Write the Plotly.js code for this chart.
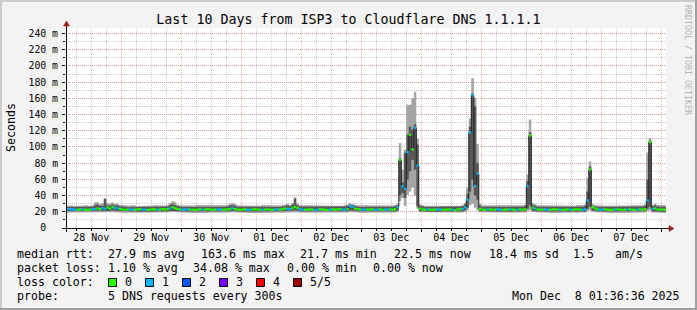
<!DOCTYPE html>
<html><head><meta charset="utf-8">
<script src="https://cdn.plot.ly/plotly-3.0.1.min.js"></script>
<style>
html,body{margin:0;padding:0;background:#f3f3f3;}
#wrap{position:relative;width:697px;height:310px;overflow:hidden;background:#f3f3f3;}
#chart{position:absolute;left:0;top:0;width:697px;height:310px;}
.sh{position:absolute;pointer-events:none;}
</style></head><body>
<div id="wrap"><div id="chart"></div>
<div class="sh" style="left:0;top:0;width:697px;height:2px;background:#cbcbcb"></div>
<div class="sh" style="left:0;top:0;width:2px;height:310px;background:#cbcbcb"></div>
<div class="sh" style="left:0;bottom:0;width:697px;height:2px;background:#a0a0a0"></div>
<div class="sh" style="right:0;top:0;width:2px;height:310px;background:#a0a0a0"></div>
</div>
<script>
// ---- time base (hourly consolidated columns) ----
const firstColumnStart = Date.UTC(2025, 10, 28, 2, 0, 0);
const columnMs = 3600000;
const rangeStart = '2025-11-28 01:52:48';
const rangeEnd = '2025-12-08 01:52:48';

// ---- median RTT per hour (ms) ----
const medianMs = [
23.2,23.4,23.0,22.8,22.5,22.9,23.1,22.6,22.4,22.8,23.0,23.5,24.0,23.2,24.5,23.8,25.2,24.0,25.8,24.6,
24.2,23.5,22.9,22.6,22.8,23.0,22.7,22.5,22.9,23.1,22.8,22.6,22.4,22.7,23.0,22.9,22.6,22.8,23.3,23.0,
23.4,24.2,25.6,24.4,23.5,22.8,22.6,22.9,23.1,22.7,22.5,22.4,22.8,23.0,22.6,22.9,23.2,22.8,22.5,22.7,
22.9,23.1,22.6,22.8,23.0,23.6,24.4,23.4,22.8,22.5,22.7,23.0,22.6,22.4,22.8,23.1,22.9,22.6,22.5,22.8,
23.0,22.7,22.5,22.9,23.1,22.8,23.2,24.0,23.6,23.2,24.4,26.0,24.6,23.2,22.8,22.6,22.9,23.0,22.7,21.9,
22.8,23.1,22.9,22.6,22.4,22.8,23.0,22.7,22.9,23.2,22.8,22.6,23.4,26.9,26.2,24.0,23.2,22.8,22.6,23.0,
22.7,22.9,23.1,22.6,22.8,23.0,22.5,22.7,23.1,22.9,22.6,23.2,25.7,84.0,51.6,48.4,93.5,115.0,97.0,123.6,
77.0,24.0,22.8,22.6,23.0,22.7,22.4,22.8,23.1,22.9,22.6,22.5,22.8,23.0,22.7,21.7,22.8,23.1,23.4,25.5,
35.0,118.0,163.6,52.0,67.0,23.8,22.7,22.5,22.9,23.0,22.6,22.8,23.1,22.7,22.4,22.6,22.9,23.0,22.7,22.5,
22.8,23.0,22.6,23.2,51.6,114.0,25.0,24.0,22.9,22.6,22.8,23.0,22.7,22.5,22.9,23.1,22.8,22.6,22.4,22.7,
23.0,22.8,22.6,22.9,23.1,22.7,22.5,23.0,34.0,72.0,25.7,24.2,22.9,22.6,22.8,23.0,22.7,22.4,22.6,22.9,
23.1,22.8,22.5,22.7,22.9,23.0,22.6,22.4,22.8,23.0,22.7,23.2,34.0,106.0,23.5,24.2,23.0,22.6,22.8,22.5
];
// ---- smoke: sorted pings 1 (fastest), 2, 4, 5 (slowest) ----
const ping1Ms = [
19.0,19.2,18.9,18.8,18.7,19.0,19.1,18.8,18.6,18.9,19.0,19.2,19.4,19.1,19.3,19.5,19.6,19.3,19.8,19.5,
19.2,19.0,18.9,18.7,18.8,19.0,18.7,18.6,18.9,19.1,18.8,18.7,18.5,18.8,19.0,18.9,18.7,18.8,19.1,19.0,
19.2,19.3,19.6,19.4,19.1,18.8,18.7,18.9,19.1,18.8,18.6,18.5,18.8,19.0,18.7,18.9,19.2,18.8,18.6,18.7,
18.9,19.1,18.7,18.8,19.0,19.2,19.5,19.2,18.8,18.6,18.7,19.0,18.7,18.5,18.8,19.1,18.9,18.7,18.6,18.8,
19.0,18.7,18.6,18.9,19.1,18.8,19.2,19.4,19.3,19.1,19.5,19.8,19.5,19.1,18.8,18.7,18.9,19.0,18.7,18.6,
18.8,19.1,18.9,18.7,18.5,18.8,19.0,18.7,18.9,19.2,18.8,18.7,19.2,19.8,19.6,19.3,19.1,18.8,18.7,19.0,
18.7,18.9,19.1,18.7,18.8,19.0,18.6,18.7,19.1,18.9,18.7,19.2,19.6,33.0,37.0,27.0,41.0,45.0,50.0,40.0,
24.0,19.4,18.8,18.7,19.0,18.7,18.5,18.8,19.1,18.9,18.7,18.6,18.8,19.0,18.7,18.5,18.8,19.1,19.2,19.6,
22.0,28.0,30.0,25.0,22.0,19.4,18.7,18.6,18.9,19.0,18.7,18.8,19.1,18.7,18.5,18.6,18.9,19.0,18.7,18.6,
18.8,19.0,18.7,19.1,21.0,22.0,19.6,19.3,18.9,18.7,18.8,19.0,18.7,18.6,18.9,19.1,18.8,18.7,18.5,18.7,
19.0,18.8,18.7,18.9,19.1,18.7,18.6,19.0,21.0,22.0,19.6,19.3,18.9,18.7,18.8,19.0,18.7,18.5,18.6,18.9,
19.1,18.8,18.6,18.7,18.9,19.0,18.7,18.5,18.8,19.0,18.7,19.1,21.0,22.0,19.2,19.5,19.0,18.7,18.8,18.6
];
const ping2Ms = [
20.6,20.8,20.4,20.3,20.2,20.5,20.7,20.3,20.1,20.4,20.6,20.9,21.2,20.8,21.0,21.3,21.6,21.0,22.0,21.4,
21.0,20.7,20.4,20.2,20.3,20.5,20.2,20.1,20.4,20.6,20.3,20.2,20.0,20.3,20.5,20.4,20.2,20.3,20.7,20.5,
20.8,21.0,21.5,21.2,20.8,20.3,20.2,20.4,20.6,20.3,20.1,20.0,20.3,20.5,20.2,20.4,20.7,20.3,20.1,20.2,
20.4,20.6,20.2,20.3,20.5,20.8,21.2,20.8,20.3,20.1,20.2,20.5,20.2,20.0,20.3,20.6,20.4,20.2,20.1,20.3,
20.5,20.2,20.1,20.4,20.6,20.3,20.7,21.0,20.9,20.7,21.2,21.8,21.3,20.7,20.3,20.2,20.4,20.5,20.2,20.1,
20.3,20.6,20.4,20.2,20.0,20.3,20.5,20.2,20.4,20.7,20.3,20.2,20.8,21.8,21.5,20.9,20.6,20.3,20.2,20.5,
20.2,20.4,20.6,20.2,20.3,20.5,20.1,20.2,20.6,20.4,20.2,20.7,21.5,40.0,43.0,37.0,60.0,70.0,84.0,72.0,
27.0,21.0,20.3,20.2,20.5,20.2,20.0,20.3,20.6,20.4,20.2,20.1,20.3,20.5,20.2,20.0,20.3,20.6,20.8,21.5,
25.0,45.0,60.0,40.0,35.0,21.0,20.2,20.1,20.4,20.5,20.2,20.3,20.6,20.2,20.0,20.1,20.4,20.5,20.2,20.1,
20.3,20.5,20.2,20.7,24.0,28.0,21.5,21.0,20.4,20.2,20.3,20.5,20.2,20.1,20.4,20.6,20.3,20.2,20.0,20.2,
20.5,20.3,20.2,20.4,20.6,20.2,20.1,20.5,24.0,26.0,21.5,20.9,20.4,20.2,20.3,20.5,20.2,20.0,20.1,20.4,
20.6,20.3,20.1,20.2,20.4,20.5,20.2,20.0,20.3,20.5,20.2,20.7,24.0,26.0,20.8,21.3,20.5,20.2,20.3,20.1
];
const ping4Ms = [
25.8,26.2,26.0,25.6,26.3,25.9,25.7,26.4,26.1,25.6,26.2,28.0,29.0,27.2,27.5,36.0,28.0,27.5,29.0,27.4,
28.0,26.8,25.9,26.2,25.7,26.1,26.5,25.9,25.6,26.3,26.0,25.8,26.4,25.9,26.1,26.5,25.7,26.0,26.2,25.8,
26.5,28.5,30.0,28.5,27.0,26.2,25.9,25.6,26.4,26.1,25.8,26.0,26.5,25.9,25.7,26.2,26.0,26.4,25.8,26.1,
26.3,25.9,25.7,26.2,26.6,28.0,28.5,27.5,26.2,25.8,26.0,26.4,25.9,25.6,26.1,26.3,26.0,25.8,26.5,26.0,
25.9,26.2,25.7,26.1,26.4,26.0,26.6,27.5,28.0,26.8,29.0,36.0,28.0,26.4,25.9,26.1,26.3,25.8,26.0,26.5,
26.0,25.7,26.2,26.4,25.9,26.1,26.5,25.8,26.0,26.3,25.9,26.6,27.5,29.0,28.2,27.0,26.2,25.8,26.0,26.4,
25.9,26.1,26.5,25.7,26.0,26.2,25.8,26.4,26.0,26.3,26.1,26.8,28.0,86.0,56.0,93.0,115.0,125.0,121.0,128.0,
103.0,27.0,26.4,25.9,26.1,26.5,25.8,26.0,26.3,25.9,25.7,26.2,26.4,26.0,25.8,26.5,26.1,25.9,26.6,29.0,
42.0,125.0,166.0,150.0,80.0,27.5,26.2,25.9,26.1,26.5,25.8,26.0,26.3,25.9,25.7,26.2,26.4,26.0,25.8,26.5,
26.1,25.9,26.3,27.0,58.0,118.0,28.5,27.5,26.2,25.9,26.1,26.5,25.8,26.0,26.3,25.9,25.7,26.2,26.4,26.0,
25.8,26.5,26.1,25.9,26.6,26.0,26.2,27.0,45.0,76.0,27.5,26.6,26.0,25.8,26.1,26.4,25.9,25.7,26.2,26.5,
26.0,25.8,26.3,26.1,25.9,26.4,25.7,26.0,26.2,25.9,26.4,27.0,60.0,108.0,26.8,28.0,26.6,26.0,25.9,26.2
];
const ping5Ms = [
27.5,28.2,27.8,27.2,28.0,27.6,27.4,28.3,27.9,27.3,28.0,31.5,32.0,29.5,30.5,36.5,31.0,30.2,31.5,30.0,
30.5,28.5,27.6,28.0,27.4,27.9,28.4,27.7,27.3,28.1,27.8,27.5,28.2,27.6,27.9,28.3,27.4,27.8,28.0,27.5,
28.4,31.0,33.0,32.0,29.0,28.0,27.6,27.3,28.2,27.9,27.5,27.8,28.3,27.6,27.4,28.0,27.7,28.2,27.5,27.9,
28.1,27.6,27.4,28.0,28.4,30.0,31.0,29.5,28.0,27.5,27.8,28.2,27.6,27.3,27.9,28.1,27.7,27.5,28.3,27.8,
27.6,28.0,27.4,27.9,28.2,27.7,28.4,29.0,30.0,28.5,31.0,38.0,30.5,28.2,27.6,27.9,28.1,27.5,27.8,28.3,
27.7,27.4,28.0,28.2,27.6,27.9,28.3,27.5,27.8,28.1,27.6,28.4,29.0,30.5,29.5,28.8,28.0,27.5,27.8,28.2,
27.6,27.9,28.3,27.4,27.8,28.0,27.5,28.2,27.7,28.1,27.9,28.5,30.0,105.0,72.0,97.0,152.0,152.0,160.0,168.0,
110.0,29.0,28.2,27.6,27.9,28.3,27.5,27.8,28.1,27.6,27.4,28.0,28.2,27.7,27.5,28.3,27.9,27.6,28.4,31.0,
50.0,135.0,185.0,160.0,104.0,29.5,28.0,27.6,27.9,28.3,27.5,27.8,28.1,27.6,27.4,28.0,28.2,27.7,27.5,28.3,
27.9,27.6,28.1,28.8,66.0,134.0,31.0,29.5,28.0,27.6,27.9,28.3,27.5,27.8,28.1,27.6,27.4,28.0,28.2,27.7,
27.5,28.3,27.9,27.6,28.4,27.8,28.0,29.0,62.0,82.0,29.5,28.4,27.8,27.5,27.9,28.2,27.6,27.4,28.0,28.3,
27.7,27.5,28.1,27.9,27.6,28.2,27.4,27.8,28.0,27.6,28.2,29.0,93.0,111.0,28.5,30.0,28.4,27.8,27.6,28.0
];
// ---- lost pings per hour (loss colour class) ----
const lossClass = [
1,1,1,1,0,0,1,0,0,0,1,1,0,0,1,1,0,0,0,1,
1,0,0,0,0,1,1,0,0,0,1,1,0,0,0,0,1,0,0,0,
0,1,0,0,0,0,1,1,1,0,0,0,0,0,1,0,0,0,0,0,
1,1,0,0,0,0,1,0,0,0,0,0,1,1,0,0,0,0,1,0,
0,0,0,1,1,0,0,0,1,1,0,0,0,1,1,0,0,0,0,1,
1,0,0,0,0,1,0,0,0,0,1,1,0,1,1,0,0,0,1,1,
0,0,0,1,1,0,0,1,1,0,0,0,1,0,1,1,1,0,0,1,
1,0,0,0,1,0,0,0,1,1,0,0,0,0,1,0,0,0,1,1,
1,1,1,1,1,0,0,0,1,0,0,0,1,1,0,0,0,1,0,0,
1,0,0,0,1,0,0,1,0,0,0,1,1,0,0,0,0,1,0,0,
0,1,0,0,0,0,1,1,1,0,0,0,0,1,1,0,0,0,0,1,
0,0,0,0,1,0,0,0,1,0,0,0,1,0,1,0,0,0,0,0
];
const lossColors = ['#26ff00','#00b8ff','#0059ff','#7e00ff','#ff0000','#a00000'];
const lossLabels = ['0','1','2','3','4','5/5'];

// ---- axis ticks ----
const yTickVals = [0,20,40,60,80,100,120,140,160,180,200,220,240];
const yTickText = ['0\u00a0\u00a0','20 m','40 m','60 m','80 m','100 m','120 m','140 m','160 m','180 m','200 m','220 m','240 m'];

// ---- texts ----
const titleText = 'Last 10 Days from ISP3 to Cloudflare DNS 1.1.1.1';
const rttLabel = 'median rtt:';
const rttStats = ['27.9 ms avg','163.6 ms max','21.7 ms min','22.5 ms now','18.4 ms sd','1.5','am/s'];
const lossLabel = 'packet loss:';
const lossStats = ['1.10 % avg','34.08 % max','0.00 % min','0.00 % now'];
const colorLabel = 'loss color:';
const probeLabel = 'probe:';
const probeText = '5 DNS requests every 300s';
const stampText = 'Mon Dec \u00a08 01:36:36 2025';
const watermark = 'RRDTOOL / TOBI OETIKER';

// ---- layout helpers (pixel -> paper) ----
const L = 66, T = 28, PW = 600, PH = 200;
const fx = px => (px - L) / PW;
const fy = py => (T + PH - py) / PH;
const MONO = 'DejaVu Sans Mono, monospace';

function stepped(vals) {
  const xs = [], ys = [];
  vals.forEach((v, k) => {
    const a = firstColumnStart + k * columnMs;
    xs.push(a, a + columnMs); ys.push(v, v);
  });
  return {xs, ys};
}
const s1 = stepped(ping1Ms), s2 = stepped(ping2Ms), s4 = stepped(ping4Ms), s5 = stepped(ping5Ms), sm = stepped(medianMs);
const none = {color: 'rgba(0,0,0,0)', width: 0};
const traces = [
  {x: s1.xs, y: s1.ys, mode: 'lines', line: none, hoverinfo: 'skip'},
  {x: s5.xs, y: s5.ys, mode: 'lines', line: none, fill: 'tonexty', fillcolor: '#a4a4a4', hoverinfo: 'skip'},
  {x: s2.xs, y: s2.ys, mode: 'lines', line: none, hoverinfo: 'skip'},
  {x: s4.xs, y: s4.ys, mode: 'lines', line: none, fill: 'tonexty', fillcolor: '#585858', hoverinfo: 'skip'},
  {x: sm.xs, y: sm.ys, mode: 'lines', line: {color: '#202020', width: 1}, hoverinfo: 'skip'}
];
lossColors.forEach((c, ci) => {
  const xs = [], ys = [];
  medianMs.forEach((m, k) => {
    if (lossClass[k] === ci) {
      const a = firstColumnStart + k * columnMs;
      xs.push(a, a + columnMs, null); ys.push(m, m, null);
    }
  });
  if (xs.length) traces.push({x: xs, y: ys, mode: 'lines', line: {color: c, width: 2.2}, connectgaps: false, hoverinfo: 'skip'});
});

const ann = [];
function txt(px, py, s, opt) {
  ann.push(Object.assign({xref: 'paper', yref: 'paper', x: fx(px), y: fy(py), text: s, showarrow: false,
    xanchor: 'left', yanchor: 'middle', borderpad: 0, font: {family: MONO, size: 11.6, color: '#000'}}, opt || {}));
}
const rttX = [107, 199.6, 298.7, 393.3, 488, 572.4, 613.8];
const lossX = [107, 192.4, 286.2, 372.4];
const swX = [108, 145, 182, 219, 256, 293];
txt(16, 254, rttLabel);
rttStats.forEach((s, i) => txt(rttX[i], 254, s));
txt(16, 268, lossLabel);
lossStats.forEach((s, i) => txt(lossX[i], 268, s));
txt(16, 282, colorLabel);
lossLabels.forEach((s, i) => txt(swX[i] + 15.5, 282, s));
txt(16, 296, probeLabel);
txt(107, 296, probeText);
txt(681, 296, stampText, {xanchor: 'right'});
txt(11, 128, 'Seconds', {xanchor: 'center', textangle: -90});
txt(688, 60, watermark, {xanchor: 'center', textangle: 90, font: {family: MONO, size: 8.3, color: '#b4b4b4'}});

const shapes = [];
lossColors.forEach((c, i) => {
  shapes.push({type: 'rect', xref: 'paper', yref: 'paper', x0: fx(swX[i] + 0.5), x1: fx(swX[i] + 8.5), y0: fy(278.5), y1: fy(286.5),
    fillcolor: c, line: {color: '#000', width: 1}, layer: 'above'});
});
// axis lines + arrows
const axisCol = '#101010', arrowCol = '#9b1c1c';
shapes.push({type: 'line', xref: 'paper', yref: 'paper', x0: fx(62), x1: fx(670), y0: fy(228.5), y1: fy(228.5), line: {color: axisCol, width: 1}, layer: 'above'});
shapes.push({type: 'line', xref: 'paper', yref: 'paper', x0: fx(66.5), x1: fx(66.5), y0: fy(232), y1: fy(25), line: {color: axisCol, width: 1}, layer: 'above'});
shapes.push({type: 'path', xref: 'paper', yref: 'paper', layer: 'above', fillcolor: arrowCol, line: {color: arrowCol, width: 0.5},
  path: `M ${fx(674)} ${fy(228.5)} L ${fx(669)} ${fy(225.5)} L ${fx(669)} ${fy(231.5)} Z`});
shapes.push({type: 'path', xref: 'paper', yref: 'paper', layer: 'above', fillcolor: arrowCol, line: {color: arrowCol, width: 0.5},
  path: `M ${fx(66.5)} ${fy(21)} L ${fx(63.5)} ${fy(26)} L ${fx(69.5)} ${fy(26)} Z`});

const majorGrid = 'rgba(222,80,80,0.42)';
const minorGrid = 'rgba(143,143,143,0.45)';
const layout = {
  width: 697, height: 310,
  margin: {l: L, r: 697 - L - PW, t: T, b: 310 - T - PH, pad: 0},
  paper_bgcolor: '#f3f3f3', plot_bgcolor: '#ffffff',
  showlegend: false, hovermode: false,
  title: {text: titleText, font: {family: MONO, size: 13.3, color: '#000'}, x: 0.5, xref: 'container', xanchor: 'center',
    y: 1 - 19 / 310, yref: 'container', yanchor: 'middle'},
  xaxis: {type: 'date', range: [rangeStart, rangeEnd], tickmode: 'linear', tick0: '2025-11-28', dtick: 86400000,
    ticklabelmode: 'period', tickformat: '%d %b', showgrid: true, gridcolor: majorGrid, griddash: '1px,1px', gridwidth: 1,
    zeroline: false, showline: false, ticks: 'outside', ticklen: 3, tickcolor: axisCol,
    tickfont: {family: MONO, size: 10, color: '#000'}, ticklabelstandoff: -3,
    minor: {tickmode: 'linear', tick0: '2025-11-28', dtick: 21600000, showgrid: true, gridcolor: minorGrid, griddash: '1px,1px',
      ticks: 'outside', ticklen: 2, tickcolor: axisCol}},
  yaxis: {range: [0, PH / 0.8104], tickmode: 'array', tickvals: yTickVals, ticktext: yTickText,
    showgrid: true, gridcolor: majorGrid, griddash: '1px,1px', zeroline: false, showline: false,
    ticks: 'outside', ticklen: 3, tickcolor: axisCol, tickfont: {family: MONO, size: 9.8, color: '#000'}, ticklabelstandoff: 2,
    minor: {tickmode: 'linear', tick0: 0, dtick: 10, showgrid: true, gridcolor: minorGrid, griddash: '1px,1px', ticks: 'outside', ticklen: 2, tickcolor: axisCol}},
  annotations: ann, shapes: shapes
};
Plotly.newPlot('chart', traces, layout, {staticPlot: true, displayModeBar: false});
</script>
</body></html>
